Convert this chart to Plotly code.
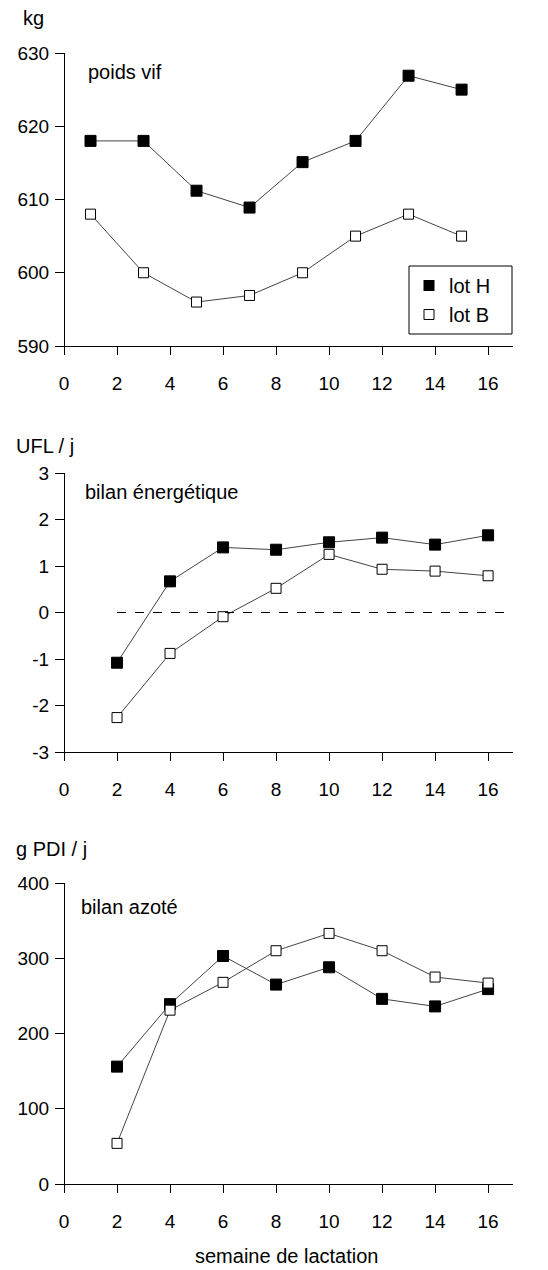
import plotly.graph_objects as go

# ---- data ----
weeks_pv = [1, 3, 5, 7, 9, 11, 13, 15]
pv_H = [618, 618, 611.2, 608.9, 615.1, 618, 626.9, 625]
pv_B = [608, 600, 596, 596.9, 600, 605, 608, 605]

weeks = [2, 4, 6, 8, 10, 12, 14, 16]
ufl_H = [-1.08, 0.67, 1.40, 1.35, 1.51, 1.61, 1.46, 1.66]
ufl_B = [-2.26, -0.88, -0.09, 0.52, 1.25, 0.93, 0.89, 0.79]

pdi_H = [156, 239, 303, 265, 288, 246, 236, 259]
pdi_B = [54, 231, 268, 310, 333, 310, 275, 267]

x_ticks = [0, 2, 4, 6, 8, 10, 12, 14, 16]
y1_ticks = [590, 600, 610, 620, 630]
y2_ticks = [-3, -2, -1, 0, 1, 2, 3]
y3_ticks = [0, 100, 200, 300, 400]

W, H = 548, 1270
FONT = "Liberation Sans, Arial, Helvetica, sans-serif"
LINE = "#444444"

def ydom(top_px, bot_px):
    return [1 - bot_px / H, 1 - top_px / H]

xdom = [55 / W, 513 / W]
xrange_ = [-0.34, 16.94]
YPOS = 64 / W

fig = go.Figure()

panels = [
    ("x", "y", weeks_pv, pv_H, pv_B),
    ("x2", "y2", weeks, ufl_H, ufl_B),
    ("x3", "y3", weeks, pdi_H, pdi_B),
]
for xa, ya, xs, hv, bv in panels:
    fig.add_trace(go.Scatter(
        x=xs, y=hv, xaxis=xa, yaxis=ya, mode="lines+markers",
        line=dict(color=LINE, width=1),
        marker=dict(symbol="square", size=11, color="black",
                    line=dict(color="black", width=1)),
        showlegend=False))
    fig.add_trace(go.Scatter(
        x=xs, y=bv, xaxis=xa, yaxis=ya, mode="lines+markers",
        line=dict(color=LINE, width=1),
        marker=dict(symbol="square", size=10, color="white",
                    line=dict(color="black", width=1)),
        showlegend=False))

fig.add_trace(go.Scatter(x=[None], y=[None], mode="markers", name="lot H",
                         marker=dict(symbol="square", size=11, color="black"),
                         xaxis="x", yaxis="y"))
fig.add_trace(go.Scatter(x=[None], y=[None], mode="markers", name="lot B",
                         marker=dict(symbol="square", size=10, color="white",
                                     line=dict(color="black", width=1)),
                         xaxis="x", yaxis="y"))

TICKSIZE = 19

def xaxis(anchor):
    return dict(domain=xdom, range=xrange_, anchor=anchor, automargin=False,
                tickvals=x_ticks, ticktext=[str(v) for v in x_ticks],
                showline=True, linecolor="black", linewidth=1,
                ticks="outside", ticklen=8, tickcolor="black",
                ticklabelstandoff=12,
                showgrid=False, zeroline=False,
                tickfont=dict(family=FONT, size=TICKSIZE, color="black"))

def yaxis(dom, rng, tv):
    return dict(domain=dom, range=rng, anchor="free", position=YPOS,
                automargin=False,
                tickvals=tv, ticktext=[str(v) for v in tv],
                showline=True, linecolor="black", linewidth=1,
                ticks="outside", ticklen=9, tickcolor="black",
                ticklabelstandoff=2,
                showgrid=False, zeroline=False,
                tickfont=dict(family=FONT, size=TICKSIZE, color="black"))

fig.update_layout(
    width=W, height=H,
    margin=dict(l=0, r=0, t=0, b=0, pad=0, autoexpand=False),
    paper_bgcolor="white", plot_bgcolor="white",
    font=dict(family=FONT, size=19, color="black"),
    xaxis=xaxis("y"),
    xaxis2=xaxis("y2"),
    xaxis3=xaxis("y3"),
    yaxis=yaxis(ydom(53, 346), [590, 630], y1_ticks),
    yaxis2=yaxis(ydom(473, 752), [-3, 3], y2_ticks),
    yaxis3=yaxis(ydom(883, 1184), [0, 400], y3_ticks),
    legend=dict(x=409 / W, y=1 - 266 / H, xanchor="left", yanchor="top",
                borderwidth=0, bgcolor="rgba(0,0,0,0)",
                font=dict(family=FONT, size=20, color="black"),
                itemwidth=30, tracegroupgap=0),
    showlegend=True,
)

# legend frame
fig.add_shape(type="rect", xref="paper", yref="paper",
              x0=409 / W, x1=512 / W, y0=1 - 334 / H, y1=1 - 266 / H,
              line=dict(color="black", width=1), fillcolor="rgba(0,0,0,0)")

# zero reference line in energy panel
fig.add_shape(type="line", xref="x2", yref="y2", x0=2, x1=16.94, y0=0, y1=0,
              line=dict(color="black", width=1, dash="dash"))

def ann(text, xpx, ypx, size=20, xanchor="left"):
    fig.add_annotation(text=text, x=xpx / W, y=1 - ypx / H, xref="paper",
                       yref="paper", showarrow=False, xanchor=xanchor,
                       yanchor="middle", borderpad=0,
                       font=dict(family=FONT, size=size, color="black"))

ann("kg", 22, 18)
ann("poids vif", 87, 72)
ann("UFL / j", 15, 446)
ann("bilan énergétique", 84, 492)
ann("g PDI / j", 15, 849)
ann("bilan azoté", 80, 907)
ann("semaine de lactation", 286, 1256, size=20, xanchor="center")

post = (
    "document.documentElement.style.margin='0';"
    "document.body.style.margin='0';"
    "var gd=document.querySelector('.plotly-graph-div');"
    "gd.style.position='fixed';gd.style.top='0px';gd.style.left='0px';"
)

fig.write_html("out.html", config={"displayModeBar": False}, post_script=post)
